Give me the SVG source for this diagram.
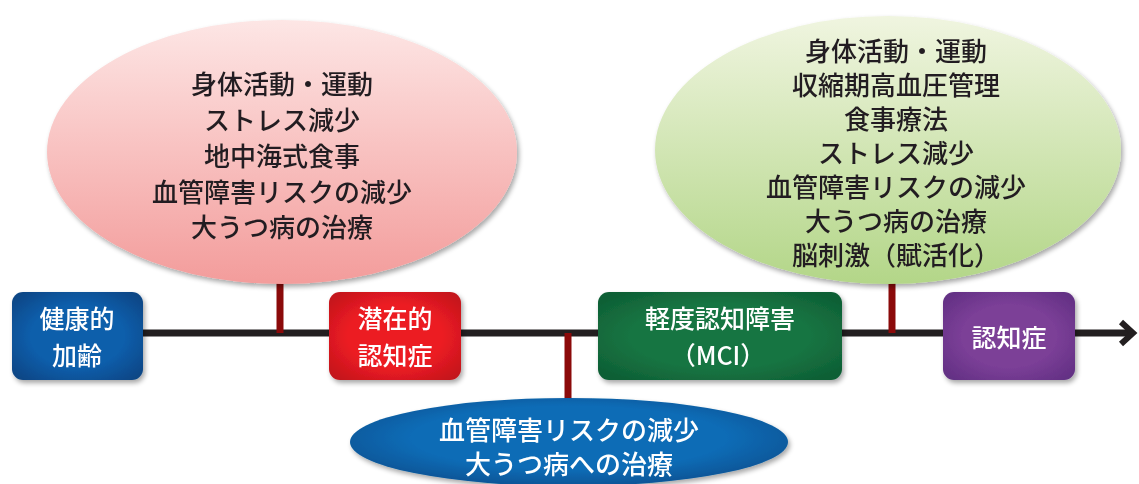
<svg xmlns="http://www.w3.org/2000/svg" width="1139" height="484" viewBox="0 0 1139 484">
<defs>
<linearGradient id="gPink" x1="0" y1="0" x2="0" y2="1"><stop offset="0" stop-color="#fde6e5"/><stop offset="1" stop-color="#f39c9b"/></linearGradient>
<linearGradient id="gGreen" x1="0" y1="0" x2="0" y2="1"><stop offset="0" stop-color="#f0f5e0"/><stop offset="1" stop-color="#b3d688"/></linearGradient>
<radialGradient id="gBlueEl" cx="0.5" cy="0.45" r="0.6"><stop offset="0.6" stop-color="#0b6cb6"/><stop offset="1" stop-color="#064f8f"/></radialGradient>
<radialGradient id="gBlue" cx="0.5" cy="0.5" r="0.65"><stop offset="0.55" stop-color="#0f5eab"/><stop offset="1" stop-color="#0a4685"/></radialGradient>
<radialGradient id="gRed" cx="0.5" cy="0.5" r="0.65"><stop offset="0.55" stop-color="#ec1c24"/><stop offset="1" stop-color="#c3141b"/></radialGradient>
<radialGradient id="gGr" cx="0.5" cy="0.5" r="0.65"><stop offset="0.55" stop-color="#177543"/><stop offset="1" stop-color="#0e5e34"/></radialGradient>
<radialGradient id="gPur" cx="0.5" cy="0.5" r="0.65"><stop offset="0.55" stop-color="#7b3f97"/><stop offset="1" stop-color="#633084"/></radialGradient>
<filter id="sh" x="-10%" y="-10%" width="125%" height="130%"><feGaussianBlur in="SourceAlpha" stdDeviation="2.5"/><feOffset dx="2" dy="3"/><feComponentTransfer><feFuncA type="linear" slope="0.35"/></feComponentTransfer><feMerge><feMergeNode/><feMergeNode in="SourceGraphic"/></feMerge></filter>
</defs>
<style>
.t{font-family:"Noto Sans CJK JP","Noto Sans",sans-serif;font-size:26px;font-weight:500;text-anchor:middle;dominant-baseline:central}
.dk{fill:#231f20}
.wh{fill:#ffffff}
.bx{font-size:25px}
.stem{stroke:#8b0a0a;stroke-width:7}
</style>
<rect width="1139" height="484" fill="#ffffff"/>
<g id="connectors">
<line x1="140" y1="333" x2="1132" y2="333" stroke="#231f20" stroke-width="7"/>
<polyline points="1121,322 1133,333 1121,344" fill="none" stroke="#231f20" stroke-width="6"/>
<line class="stem" x1="280" y1="280" x2="280" y2="333"/>
<line class="stem" x1="892" y1="278" x2="892" y2="333"/>
<line class="stem" x1="568" y1="333" x2="568" y2="402"/>
</g>
<g id="ellipse-pink" filter="url(#sh)">
<ellipse cx="282" cy="152" rx="235" ry="132" fill="url(#gPink)"/>
<text class="t dk" x="282" y="82">身体活動・運動</text>
<text class="t dk" x="282" y="118">ストレス減少</text>
<text class="t dk" x="282" y="154">地中海式食事</text>
<text class="t dk" x="282" y="190">血管障害リスクの減少</text>
<text class="t dk" x="282" y="225">大うつ病の治療</text>
</g>
<g id="ellipse-green" filter="url(#sh)">
<ellipse cx="888" cy="150" rx="233" ry="134" fill="url(#gGreen)"/>
<text class="t dk" x="896" y="49">身体活動・運動</text>
<text class="t dk" x="896" y="83">収縮期高血圧管理</text>
<text class="t dk" x="896" y="117">食事療法</text>
<text class="t dk" x="896" y="151">ストレス減少</text>
<text class="t dk" x="896" y="185">血管障害リスクの減少</text>
<text class="t dk" x="896" y="219">大うつ病の治療</text>
<text class="t dk" x="896" y="253">脳刺激（賦活化）</text>
</g>
<g id="ellipse-blue" filter="url(#sh)">
<ellipse cx="569" cy="442" rx="219" ry="44" fill="url(#gBlueEl)"/>
<text class="t wh" x="569" y="428">血管障害リスクの減少</text>
<text class="t wh" x="569" y="462">大うつ病への治療</text>
</g>
<g id="node-healthy" filter="url(#sh)">
<rect x="12" y="292" width="131" height="88" rx="11" fill="url(#gBlue)"/>
<text class="t wh bx" x="77" y="317">健康的</text>
<text class="t wh bx" x="77" y="354">加齢</text>
</g>
<g id="node-latent" filter="url(#sh)">
<rect x="329" y="292" width="132" height="88" rx="11" fill="url(#gRed)"/>
<text class="t wh bx" x="395" y="317">潜在的</text>
<text class="t wh bx" x="395" y="354">認知症</text>
</g>
<g id="node-mci" filter="url(#sh)">
<rect x="598" y="292" width="244" height="88" rx="11" fill="url(#gGr)"/>
<text class="t wh bx" x="720" y="317">軽度認知障害</text>
<text class="t wh bx" x="718" y="354">（MCI）</text>
</g>
<g id="node-dementia" filter="url(#sh)">
<rect x="943" y="292" width="132" height="88" rx="11" fill="url(#gPur)"/>
<text class="t wh bx" x="1009" y="336">認知症</text>
</g>
</svg>
